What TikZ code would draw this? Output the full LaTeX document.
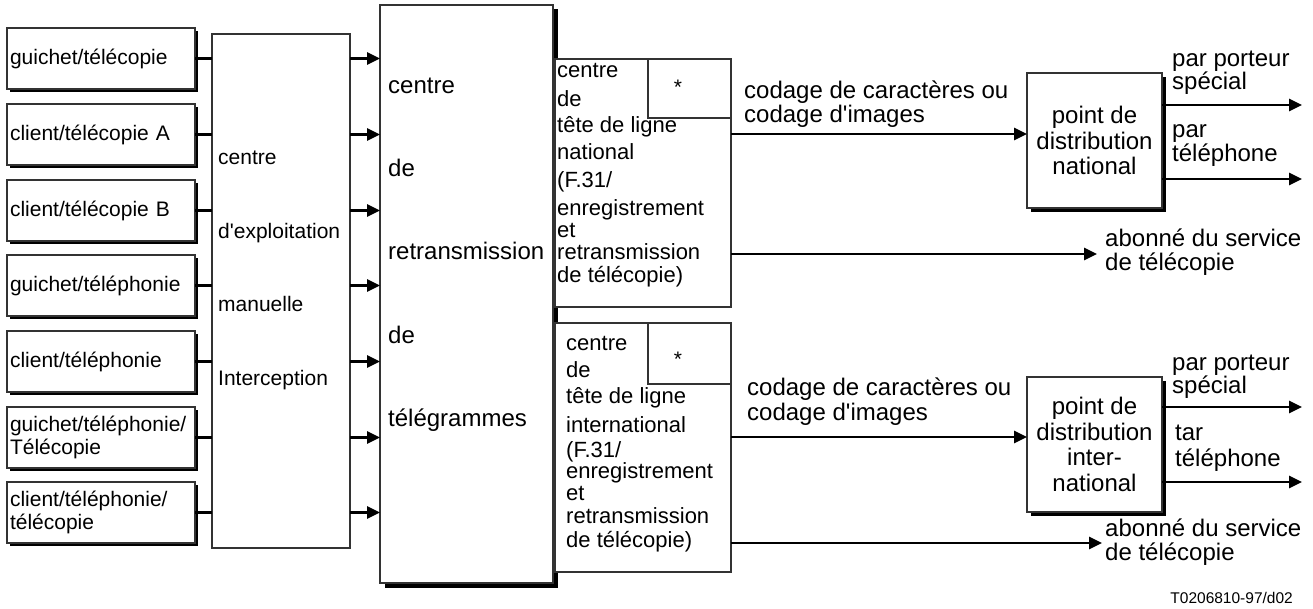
\documentclass[tikz,border=0pt]{standalone}
\usepackage{fontspec}
\setmainfont{Liberation Sans}
\usetikzlibrary{arrows.meta,shadows}
\tikzset{
  box/.style={draw=black!80, line width=1.3pt, fill=white, inner sep=0pt, outer sep=0pt, anchor=north west},
  shad/.style={drop shadow={shadow xshift=#1,shadow yshift=-#1,fill=black,opacity=1}},
  lbox/.style={box, shad=3pt, minimum height=61pt, text width=182pt, inner xsep=3pt, align=left,
     font=\fontsize{21}{23}\selectfont},
  pbox/.style={box, shad=4pt, minimum width=135pt, minimum height=135pt, align=center,
     font=\fontsize{24}{25.5}\selectfont},
  tl/.style={inner sep=0pt, anchor=base west},
  t21/.style={tl, font=\fontsize{21}{23}\selectfont},
  t22/.style={tl, font=\fontsize{22}{24}\selectfont},
  t24/.style={tl, font=\fontsize{24}{24}\selectfont},
  conn/.style={line width=2.6pt},
  arr/.style={line width=2.6pt, -{Triangle[length=13pt,width=12pt]}},
}
\begin{document}
\begin{tikzpicture}[x=1pt,y=-1pt]
\useasboundingbox (0,0) rectangle (1313,609);

% left boxes
\node[lbox] (l1) at (7,28)  {guichet/télécopie};
\node[lbox] (l2) at (7,104) {client/télécopie A};
\node[lbox] (l3) at (7,180) {client/télécopie B};
\node[lbox] (l4) at (7,255) {guichet/téléphonie};
\node[lbox] (l5) at (7,331) {client/téléphonie};
\node[lbox] (l6) at (7,407) {guichet/téléphonie/\\Télécopie};
\node[lbox] (l7) at (7,482) {client/téléphonie/\\télécopie};

% centre d'exploitation
\node[box, minimum width=138pt, minimum height=514pt] (expl) at (212,34) {};
\node[t21] (e1) at (218,165) {centre};
\node[t21] (e2) at (218,239) {d\textquotesingle exploitation};
\node[t21] (e3) at (218,312) {manuelle};
\node[t21] (e4) at (218,385) {Interception};

% centre de retransmission
\node[box, shad=4.5pt, minimum width=173pt, minimum height=578pt] (big) at (380,5) {};
\node[t24] (b1) at (388,94)  {centre};
\node[t24] (b2) at (388,177) {de};
\node[t24] (b3) at (388,260) {retransmission};
\node[t24] (b4) at (388,343) {de};
\node[t24] (b5) at (388,426) {télégrammes};

% connectors left
\foreach \i in {1,...,7}{
  \draw[conn] (l\i.east) -- (l\i.east -| expl.west);
  \draw[arr] (expl.east |- l\i.center) -- (big.west |- l\i.center);
}

% national head box
\node[box, minimum width=176pt, minimum height=248pt] (nat) at (555,59) {};
\node[box, minimum width=83pt, minimum height=59pt] (nstar) at (648,59) {};
\node[tl, font=\fontsize{21}{21}\selectfont, anchor=base] (ns) at (678,95) {*};
\node[t22] (n1) at (557,78)  {centre};
\node[t22] (n2) at (557,107) {de};
\node[t22] (n3) at (557,133) {tête de ligne};
\node[t22] (n4) at (557,160) {national};
\node[t22] (n5) at (557,188) {(F.31/};
\node[t22] (n6) at (557,216) {enregistrement};
\node[t22] (n7) at (557,238) {et};
\node[t22] (n8) at (557,260) {retransmission};
\node[t22] (n9) at (557,283) {de télécopie)};

% international head box
\node[box, minimum width=176pt, minimum height=249pt] (int) at (555,323) {};
\node[box, minimum width=83pt, minimum height=61pt] (istar) at (648,323) {};
\node[tl, font=\fontsize{21}{21}\selectfont, anchor=base] (is) at (678,366) {*};
\node[t22] (i1) at (566,350) {centre};
\node[t22] (i2) at (566,377) {de};
\node[t22] (i3) at (566,403) {tête de ligne};
\node[t22] (i4) at (566,432) {international};
\node[t22] (i5) at (566,457) {(F.31/};
\node[t22] (i6) at (566,478) {enregistrement};
\node[t22] (i7) at (566,500) {et};
\node[t22] (i8) at (566,523) {retransmission};
\node[t22] (i9) at (566,547) {de télécopie)};

% distribution points
\node[pbox] (pn) at (1027,73)  {point de\\distribution\\national};
\node[pbox] (pi) at (1027,377) {point de\\distribution\\inter-\\national};

% coordinates
\coordinate (yn1) at (0,134);
\coordinate (yn2) at (0,254);
\coordinate (yi1) at (0,437);
\coordinate (yi2) at (0,543);
\coordinate (abn) at (1097,254);
\coordinate (abi) at (1102,543);
\coordinate (on1) at (1302,105);
\coordinate (on2) at (1302,179);
\coordinate (oi1) at (1302,407);
\coordinate (oi2) at (1302,482);

% national connectors
\draw[arr] (nat.east |- yn1) -- (pn.west |- yn1);
\draw[arr] (nat.east |- yn2) -- (abn);
\draw[arr] (pn.east |- on1) -- (on1);
\draw[arr] (pn.east |- on2) -- (on2);
% international connectors
\draw[arr] (int.east |- yi1) -- (pi.west |- yi1);
\draw[arr] (int.east |- yi2) -- (abi);
\draw[arr] (pi.east |- oi1) -- (oi1);
\draw[arr] (pi.east |- oi2) -- (oi2);

% labels national
\node[t24] (c1) at (744,99)  {codage de caractères ou};
\node[t24] (c2) at (744,123) {codage d\textquotesingle images};
\node[t24] (a1) at (1105,247) {abonné du service};
\node[t24] (a2) at (1105,271) {de télécopie};
\node[t24] (p1) at (1172,67)  {par porteur};
\node[t24] (p2) at (1172,90)  {spécial};
\node[t24] (p3) at (1172,138) {par};
\node[t24] (p4) at (1172,162) {téléphone};

% labels international
\node[t24] (c3) at (747,395) {codage de caractères ou};
\node[t24] (c4) at (747,420) {codage d\textquotesingle images};
\node[t24] (a3) at (1105,536) {abonné du service};
\node[t24] (a4) at (1105,560) {de télécopie};
\node[t24] (p5) at (1172,370) {par porteur};
\node[t24] (p6) at (1172,393) {spécial};
\node[t24] (p7) at (1175,440) {tar};
\node[t24] (p8) at (1175,466) {téléphone};

% reference
\node[inner sep=0pt, anchor=base east, font=\fontsize{15.5}{16}\selectfont] (ref) at (1293,603) {T0206810-97/d02};
\end{tikzpicture}
\end{document}
